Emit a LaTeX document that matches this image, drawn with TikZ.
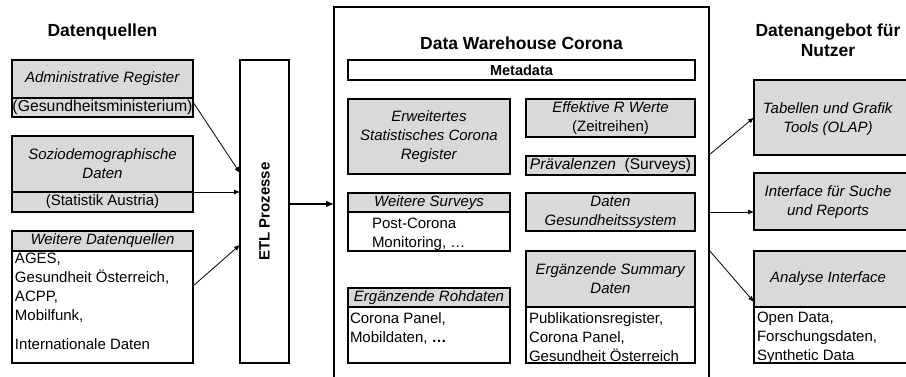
\documentclass[tikz,border=0pt]{standalone}
\usepackage{fontspec}
\setmainfont{Liberation Sans}
\usetikzlibrary{arrows.meta,calc}
\definecolor{boxgray}{RGB}{217,217,217}
\begin{document}
\begin{tikzpicture}[x=1pt,y=-1pt,
  every node/.style={font=\fontsize{15}{19}\selectfont, inner sep=0pt, outer sep=0pt},
  gbox/.style={draw, line width=2pt, fill=boxgray, align=center},
  wbox/.style={draw, line width=2pt, fill=white},
  title/.style={font=\fontsize{17.5}{20}\selectfont\bfseries, align=center},
  body/.style={anchor=north west, align=left},
  arr/.style={-{Latex[length=6pt,width=5pt]}, line width=0.8pt},
  bigarr/.style={-{Latex[length=8pt,width=7pt]}, line width=2.5pt}]
\useasboundingbox (0,0) rectangle (906,376);
\clip (0,0) rectangle (906,376);

% ---------- left column ----------
\node[title] (tq) at (102.5,32) {Datenquellen};
\node[gbox, minimum width=181, minimum height=38] (adm) at (102.5,79) {\textit{Administrative Register}};
\node[gbox, minimum width=181, minimum height=19, font=\fontsize{15.8}{19}\selectfont] (admsub) at (102.5,107.5) {(Gesundheitsministerium)};
\node[gbox, minimum width=181, minimum height=56] (soz) at (102.5,164) {\textit{Soziodemographische}\\\textit{Daten}};
\node[gbox, minimum width=181, minimum height=20] (sozsub) at (102.5,202) {(Statistik Austria)};
\node[gbox, minimum width=181, minimum height=20] (wd) at (102.5,241) {\textit{Weitere Datenquellen}};
\node[wbox, minimum width=181, minimum height=112] (wdbody) at (102.5,307) {};
\node[body] (wdtext) at (15,253) {AGES,\\Gesundheit Österreich,\\ACPP,\\Mobilfunk,\\[10pt]Internationale Daten};

% ---------- ETL ----------
\node[wbox, minimum width=49, minimum height=303] (etl) at (264.5,211.5) {};
\node[rotate=90, font=\fontsize{15}{19}\selectfont\bfseries] (etltext) at (etl.center) {ETL Prozesse};

% ---------- Data warehouse ----------
\node[draw, line width=2pt, minimum width=375, minimum height=413] (dwh) at (521.5,213.5) {};
\node[title] (tdwh) at (521.5,43) {Data Warehouse Corona};
\node[wbox, minimum width=347, minimum height=20, font=\fontsize{14.5}{17}\selectfont\bfseries] (meta) at (521.5,70) {Metadata};
\node[gbox, minimum width=162, minimum height=75] (erw) at (429,136.5) {\textit{Erweitertes}\\\textit{Statistisches Corona}\\\textit{Register}};
\node[gbox, minimum width=169, minimum height=38] (effr) at (610.5,118) {\textit{Effektive R Werte}\\(Zeitreihen)};
\node[gbox, minimum width=169, minimum height=19, font=\fontsize{15.5}{19}\selectfont] (praev) at (610.5,165.5) {\textit{Prävalenzen}\ \ (Surveys)};
\node[gbox, minimum width=162, minimum height=19] (ws) at (429,202.5) {\textit{Weitere Surveys}};
\node[wbox, minimum width=162, minimum height=39] (wsbody) at (429,231.5) {};
\node[body] (wstext) at (372,217.6) {Post-Corona\\Monitoring, …};
\node[gbox, minimum width=169, minimum height=38] (dg) at (610.5,212) {\textit{Daten}\\\textit{Gesundheitssystem}};
\node[gbox, minimum width=169, minimum height=56] (sum) at (610.5,279) {\textit{Ergänzende Summary}\\\textit{Daten}};
\node[wbox, minimum width=169, minimum height=56] (sumbody) at (610.5,335) {};
\node[body] (sumtext) at (529,312.5) {Publikationsregister,\\Corona Panel,\\Gesundheit Österreich};
\node[gbox, minimum width=162, minimum height=19] (roh) at (429,297.5) {\textit{Ergänzende Rohdaten}};
\node[wbox, minimum width=162, minimum height=56] (rohbody) at (429,335) {};
\node[body] (rohtext) at (350,312.5) {Corona Panel,\\Mobildaten, \textbf{…}};

% ---------- right column ----------
\node[title] (tn) at (828,40) {Datenangebot für\\Nutzer};
\node[gbox, minimum width=158, minimum height=75] (tab) at (833,117.5) {};
\node[align=center] (tabtext) at (828,119) {\textit{Tabellen und Grafik}\\\textit{Tools (OLAP)}};
\node[gbox, minimum width=158, minimum height=57] (intf) at (833,201.5) {};
\node[align=center] (intftext) at (828,202.5) {\textit{Interface für Suche}\\\textit{und Reports}};
\node[gbox, minimum width=158, minimum height=56] (ana) at (833,279) {};
\node (anatext) at (828,279) {\textit{Analyse Interface}};
\node[wbox, minimum width=158, minimum height=56] (anabody) at (833,335) {};
\node[body] (anatext2) at (757,311.6) {Open Data,\\Forschungsdaten,\\Synthetic Data};

% ---------- connectors ----------
\coordinate (a1) at ($(admsub.north east)+(0,4)$);
\coordinate (a1e) at ($(etl.north west)!0.373!(etl.south west)$);
\draw[arr] (a1) -- (a1e);
\draw[arr] (sozsub.north east) -- (sozsub.north east -| etl.west);
\coordinate (a3) at ($(wdbody.north east)+(0,35)$);
\coordinate (a3e) at ($(etl.north west)!0.61!(etl.south west)$);
\draw[arr] (a3) -- (a3e);
\coordinate (e1) at ($(etl.north east)!0.475!(etl.south east)$);
\draw[bigarr] (e1) -- (e1 -| dwh.west);
\coordinate (r1) at ($(dwh.north east)+(0,148)$);
\draw[arr] (r1) -- (tab.west);
\coordinate (r2) at ($(dwh.north east)+(0,205)$);
\draw[arr] (r2) -- (r2 -| intf.west);
\coordinate (r3) at ($(dwh.north east)+(0,243)$);
\coordinate (r3e) at ($(ana.south west)+(0,-5)$);
\draw[arr] (r3) -- (r3e);
\end{tikzpicture}
\end{document}
